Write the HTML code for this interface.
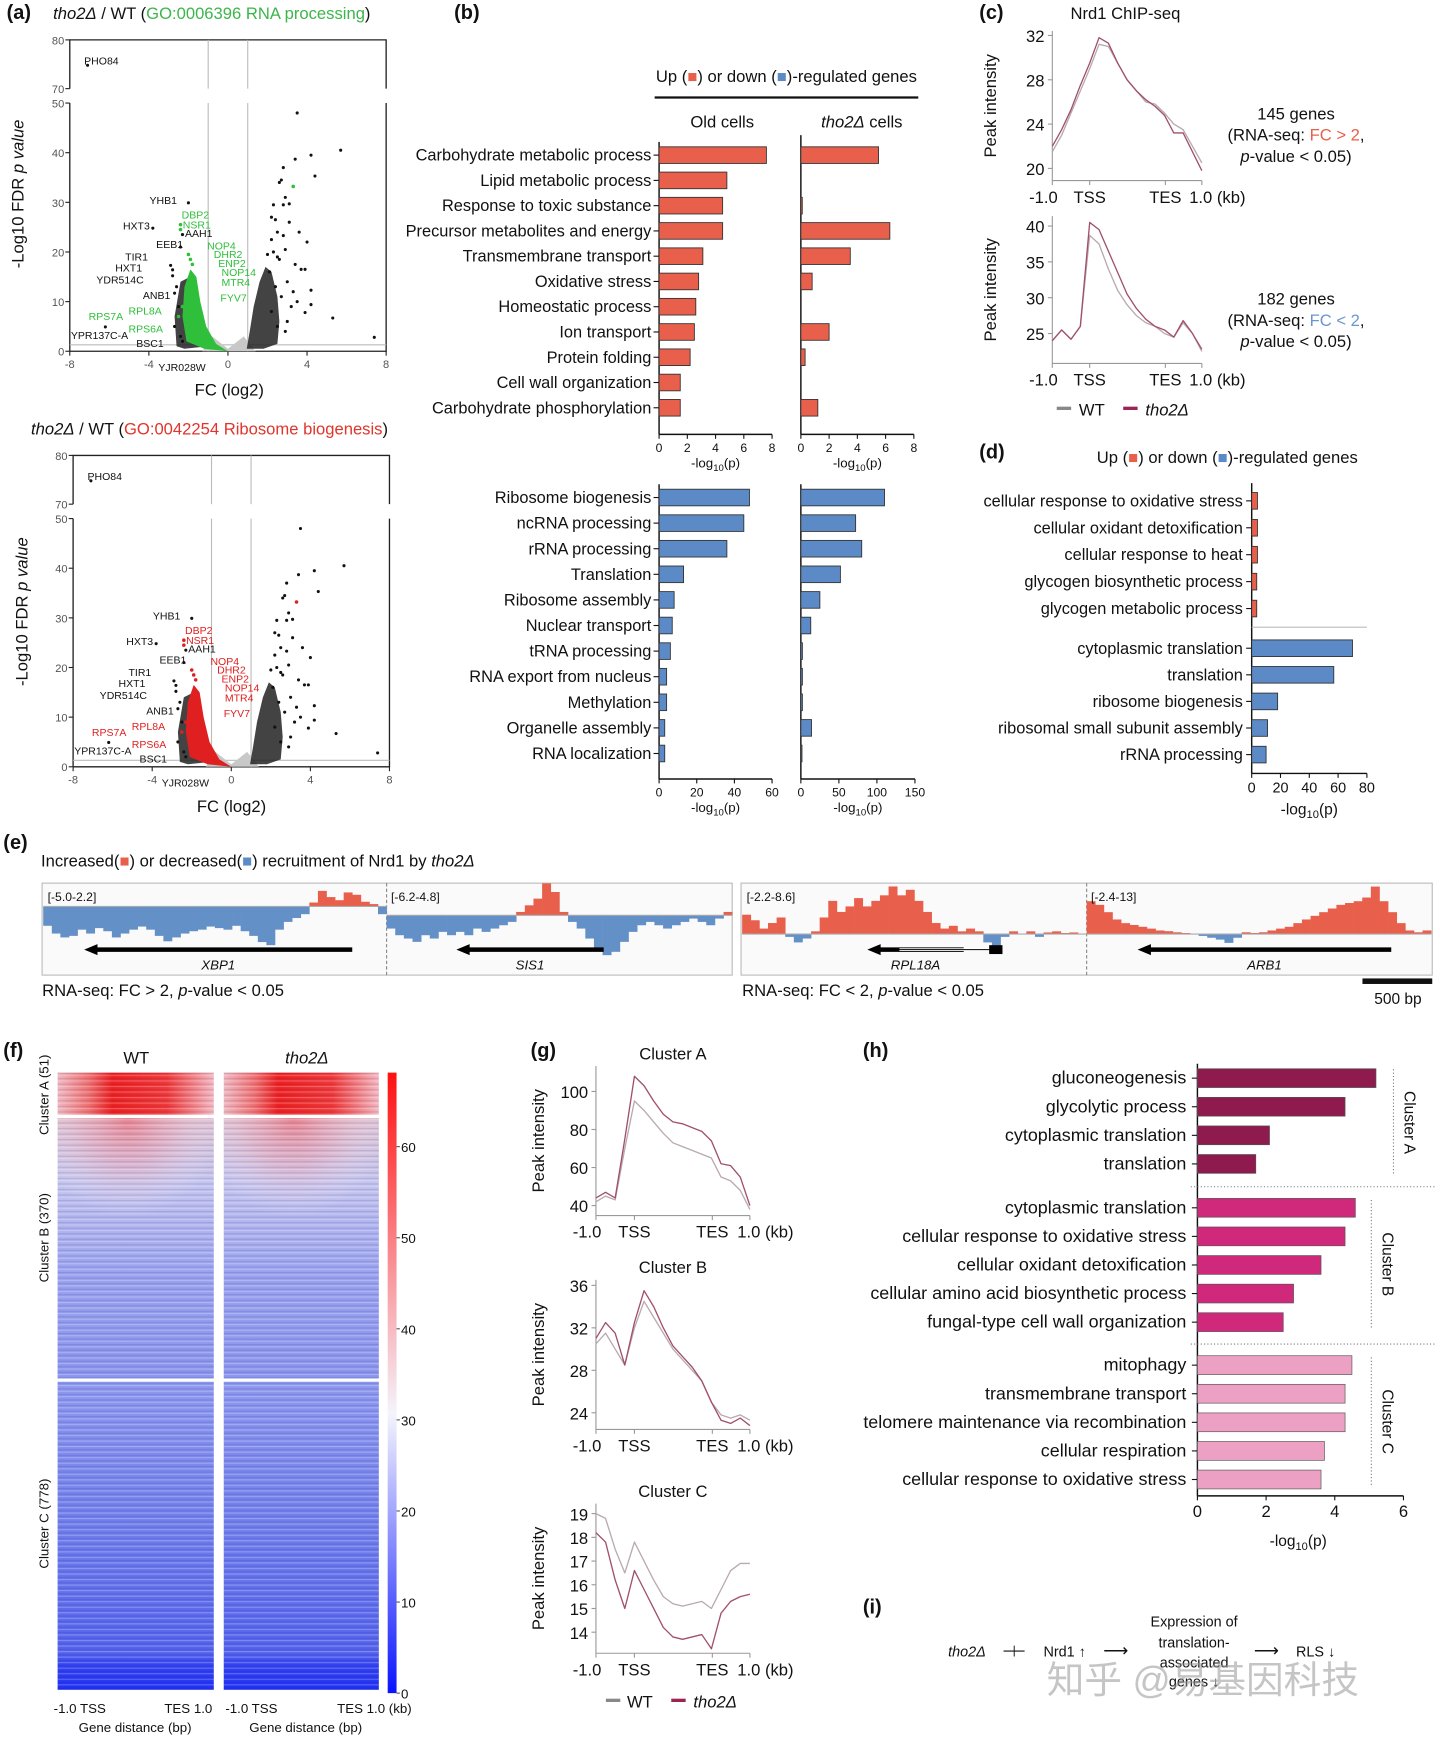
<!DOCTYPE html>
<html><head><meta charset="utf-8"><style>
html,body{margin:0;padding:0;background:#fff;}
svg{display:block;}
text{font-family:"Liberation Sans","Noto Sans CJK SC",sans-serif;fill:#111;}
</style></head><body>
<svg id="fig" xmlns="http://www.w3.org/2000/svg" width="1440" height="1743" viewBox="0 0 1300 1573" preserveAspectRatio="none">
<defs>
<linearGradient id="cbar" x1="0" y1="1" x2="0" y2="0">
<stop offset="0" stop-color="#0a14ff"/><stop offset="0.45" stop-color="#f4f4fc"/><stop offset="1" stop-color="#ff1010"/></linearGradient>
<linearGradient id="hmA" x1="0" y1="0" x2="1" y2="0">
<stop offset="0" stop-color="#f0b8c0"/><stop offset="0.2" stop-color="#f07070"/><stop offset="0.35" stop-color="#ee2020"/><stop offset="0.7" stop-color="#f03838"/><stop offset="1" stop-color="#f4b8c0"/></linearGradient>
<linearGradient id="hmB" x1="0" y1="0" x2="0" y2="1">
<stop offset="0" stop-color="#dcc0d0"/><stop offset="0.25" stop-color="#c4c4ee"/><stop offset="0.6" stop-color="#9aa2ee"/><stop offset="1" stop-color="#8a94ec"/></linearGradient>
<linearGradient id="hmC" x1="0" y1="0" x2="0" y2="1">
<stop offset="0" stop-color="#8e98ee"/><stop offset="0.5" stop-color="#6e7cea"/><stop offset="0.88" stop-color="#5462ec"/><stop offset="0.92" stop-color="#3342f0"/><stop offset="1" stop-color="#2030f4"/></linearGradient>
<radialGradient id="hbHot" cx="0.45" cy="0" r="0.6">
<stop offset="0" stop-color="rgba(240,90,100,0.6)"/><stop offset="0.5" stop-color="rgba(245,160,170,0.35)"/><stop offset="1" stop-color="rgba(255,255,255,0)"/></radialGradient>
<pattern id="stripes" width="6" height="5" patternUnits="userSpaceOnUse">
<rect x="0" y="0" width="6" height="1" fill="rgba(255,255,255,0.25)"/><rect x="0" y="3" width="6" height="1" fill="rgba(20,20,120,0.14)"/></pattern>
</defs>

<text x="6" y="17" font-size="18" font-weight="bold">(a)</text>
<text x="410" y="17" font-size="18" font-weight="bold">(b)</text>
<text x="884" y="17" font-size="18" font-weight="bold">(c)</text>
<text x="884" y="414" font-size="18" font-weight="bold">(d)</text>
<text x="3" y="766" font-size="18" font-weight="bold">(e)</text>
<text x="3" y="954" font-size="18" font-weight="bold">(f)</text>
<text x="479" y="954" font-size="18" font-weight="bold">(g)</text>
<text x="779" y="954" font-size="18" font-weight="bold">(h)</text>
<text x="779" y="1456" font-size="18" font-weight="bold">(i)</text>

<text x="48" y="17" font-size="15"><tspan font-style="italic">tho2Δ</tspan> / WT (<tspan style="fill:#3cb64a">GO:0006396 RNA processing</tspan>)</text>
<text x="28" y="392" font-size="15"><tspan font-style="italic">tho2Δ</tspan> / WT (<tspan style="fill:#e0352b">GO:0042254 Ribosome biogenesis</tspan>)</text>
<text transform="translate(21,175) rotate(-90)" text-anchor="middle" font-size="15">-Log10 FDR <tspan font-style="italic">p value</tspan></text>
<text transform="translate(25,552) rotate(-90)" text-anchor="middle" font-size="15">-Log10 FDR <tspan font-style="italic">p value</tspan></text>
<text x="207" y="357" text-anchor="middle" font-size="15">FC (log2)</text>
<text x="209" y="733" text-anchor="middle" font-size="15">FC (log2)</text>

<text x="710" y="74" text-anchor="middle" font-size="15">Up (<tspan style="fill:#e8604c">■</tspan>) or down (<tspan style="fill:#5b8ac6">■</tspan>)-regulated genes</text>
<line x1="591" y1="88" x2="829" y2="88" stroke="#111" stroke-width="2"/>
<text x="652" y="115" text-anchor="middle" font-size="15">Old cells</text>
<text x="778" y="115" text-anchor="middle" font-size="15"><tspan font-style="italic">tho2Δ</tspan> cells</text>

<text x="1016" y="17" text-anchor="middle" font-size="15">Nrd1 ChIP-seq</text>
<text x="1170" y="108" text-anchor="middle" font-size="15">145 genes</text>
<text x="1170" y="127" text-anchor="middle" font-size="15">(RNA-seq: <tspan style="fill:#e8604c">FC &gt; 2</tspan>,</text>
<text x="1170" y="146" text-anchor="middle" font-size="15"><tspan font-style="italic">p</tspan>-value &lt; 0.05)</text>
<text x="1170" y="275" text-anchor="middle" font-size="15">182 genes</text>
<text x="1170" y="294" text-anchor="middle" font-size="15">(RNA-seq: <tspan style="fill:#6a96d0">FC &lt; 2</tspan>,</text>
<text x="1170" y="313" text-anchor="middle" font-size="15"><tspan font-style="italic">p</tspan>-value &lt; 0.05)</text>
<g>
<rect x="954" y="367" width="13" height="3" fill="#888"/><text x="974" y="375" font-size="15">WT</text>
<rect x="1014" y="367" width="13" height="3" fill="#9b2455"/><text x="1034" y="375" font-size="15" font-style="italic">tho2Δ</text></g>

<text x="1108" y="418" text-anchor="middle" font-size="15">Up (<tspan style="fill:#e8604c">■</tspan>) or down (<tspan style="fill:#5b8ac6">■</tspan>)-regulated genes</text>

<text x="37" y="782" font-size="15">Increased(<tspan style="fill:#e8604c">■</tspan>) or decreased(<tspan style="fill:#5b8ac6">■</tspan>) recruitment of Nrd1 by <tspan font-style="italic">tho2Δ</tspan></text>
<rect x="38" y="797" width="623" height="83" fill="#fafafa" stroke="#bbb"/>
<rect x="669" y="797" width="624" height="83" fill="#fafafa" stroke="#bbb"/>
<line x1="349" y1="797" x2="349" y2="880" stroke="#888" stroke-dasharray="3,2"/>
<line x1="981" y1="797" x2="981" y2="880" stroke="#888" stroke-dasharray="3,2"/>
<text x="38" y="899" font-size="15">RNA-seq: FC &gt; 2, <tspan font-style="italic">p</tspan>-value &lt; 0.05</text>
<text x="670" y="899" font-size="15">RNA-seq: FC &lt; 2, <tspan font-style="italic">p</tspan>-value &lt; 0.05</text>
<rect x="1230" y="883" width="63" height="5" fill="#111"/>
<text x="1262" y="906" text-anchor="middle" font-size="14">500 bp</text>

<text x="123" y="960" text-anchor="middle" font-size="15">WT</text>
<text x="277" y="960" text-anchor="middle" font-size="15" font-style="italic">tho2Δ</text>
<text transform="translate(44,988) rotate(-90)" text-anchor="middle" font-size="12">Cluster A (51)</text>
<text transform="translate(44,1117) rotate(-90)" text-anchor="middle" font-size="12">Cluster B (370)</text>
<text transform="translate(44,1375) rotate(-90)" text-anchor="middle" font-size="12">Cluster C (778)</text>
<text x="72" y="1546" text-anchor="middle" font-size="12">-1.0 TSS</text>
<text x="170" y="1546" text-anchor="middle" font-size="12">TES  1.0</text>
<text x="227" y="1546" text-anchor="middle" font-size="12">-1.0 TSS</text>
<text x="338" y="1546" text-anchor="middle" font-size="12">TES  1.0 (kb)</text>
<text x="122" y="1563" text-anchor="middle" font-size="12">Gene distance (bp)</text>
<text x="276" y="1563" text-anchor="middle" font-size="12">Gene distance (bp)</text>

<text x="1172" y="1395" text-anchor="middle" font-size="14">-log<tspan font-size="10" dy="4">10</tspan><tspan dy="-4">(p)</tspan></text>
<text transform="translate(1268,1013) rotate(90)" text-anchor="middle" font-size="14">Cluster A</text>
<text transform="translate(1248,1141) rotate(90)" text-anchor="middle" font-size="14">Cluster B</text>
<text transform="translate(1248,1283) rotate(90)" text-anchor="middle" font-size="14">Cluster C</text>

<g>
<text x="856" y="1495" font-size="13" font-style="italic">tho2Δ</text>
<text x="905" y="1495" font-size="14">⊣</text>
<line x1="906" y1="1490" x2="925" y2="1490" stroke="#111"/>
<text x="942" y="1495" font-size="13">Nrd1 ↑</text>
<text x="996" y="1495" font-size="16">⟶</text>
<text x="1078" y="1468" text-anchor="middle" font-size="13">Expression of</text>
<text x="1078" y="1487" text-anchor="middle" font-size="13">translation-</text>
<text x="1078" y="1505" text-anchor="middle" font-size="13">associated</text>
<text x="1078" y="1522" text-anchor="middle" font-size="13">genes ↓</text>
<text x="1132" y="1495" font-size="16">⟶</text>
<text x="1170" y="1495" font-size="13">RLS ↓</text>
</g>
<text x="945" y="1528" font-size="34" style="fill:rgba(150,150,150,0.55)">知乎 @易基因科技</text>

<script>
const NS='http://www.w3.org/2000/svg';
const svg=document.getElementById('fig');
function mk(tag,attrs,parent){const e=document.createElementNS(NS,tag);for(const k in attrs)e.setAttribute(k,attrs[k]);(parent||svg).appendChild(e);return e;}
function txt(s,x,y,size,anchor,parent){const e=mk('text',{x:x,y:y,'font-size':size,'text-anchor':anchor||'start'},parent);e.textContent=s;return e;}
function logLabel(x,y,size,parent){
  const t=mk('text',{x:x,y:y,'font-size':size,'text-anchor':'middle'},parent);
  const a=mk('tspan',{},t);a.textContent='-log';
  const b=mk('tspan',{'font-size':size*0.72,dy:3},t);b.textContent='10';
  const c=mk('tspan',{dy:-3},t);c.textContent='(p)';
  return t;
}

/* ---------- Panel a : volcano data ---------- */
const volTicksY=[0,10,20,30,40,50];
const volTicksYTop=[70,80];
const volTicksX=[-8,-4,0,4,8];
const volOutliersFC=[3.5,5.7,4.2,3.4,4.4,2.8,2.6,2.7,2.9,3.1,2.3,2.8,3.1,2.2,2.4,2.5,2.8,3.6,2.2,4.0,2.3,2.5,3.4,3.7,3.9,4.2,4.2,3.9,5.3,7.4,2.6,2.1,3.0,2.7,3.2,3.0,2.5,-2.0,-3.8,-2.3,-2.4,-2.9,-2.8,-2.8,-2.7,-6.2,-2.4,-7.1,2.9,3.3,2.0,2.4,3.5,2.2,2.9,-2.6,-2.5,-2.7,-2.3];
const volOutliersP=[48,40.5,39.5,38.7,35.3,37,34,34.5,31,29.7,29.5,29.5,26,27,26.5,24,23.3,24,22.5,22,20,19,17.5,16.5,16.5,12.3,9.4,7.8,6.7,2.8,18.5,16,14,11,9,6,5,29.9,24.8,23.5,21,17.3,16.4,15.2,11.7,4.9,3,74.8,20.5,12,19.5,13,10,8,4,13,9,5,2];
const volHiFC=[3.3,-2.4,-2.4,-2.0,-1.9,-1.8,-2.3,-2.5];
const volHiP=[33.2,25.5,24.5,19.5,18.5,17.5,9,7];
const cloudLeftBlackFC=[-1.0,-1.3,-1.6,-1.9,-2.4,-2.7,-2.6,-2.2];
const cloudLeftBlackP=[1,5,11,15,14,7,1,0.5];
const cloudHiFC=[0,-0.6,-1.1,-1.4,-1.6,-1.9,-2.2,-2.3,-2.1,-1.2];
const cloudHiP=[0,1.5,5,10,15,16.5,13,7,2,0.5];
const cloudRightFC=[0.95,1.1,1.3,1.6,1.9,2.2,2.5,2.6,2.5,1.8];
const cloudRightP=[0.5,4,9,14,17,16,11,6,1.5,0.5];
const volLabels=['PHO84','YHB1','DBP2','NSR1','HXT3','AAH1','EEB1','NOP4','DHR2','ENP2','TIR1','HXT1','NOP14','YDR514C','MTR4','ANB1','FYV7','RPL8A','RPS7A','RPS6A','YPR137C-A','BSC1','YJR028W'];
const volLabelHi=[0,0,1,1,0,0,0,1,1,1,0,0,1,0,1,0,1,1,1,1,0,0,0];
const volLabelX=[76,135,164,165,111,167,141,187,193,197,113,104,200,87,200,129,199,116,80,116,64,123,143];
const volLabelY=[58,184,197,206,207,214,224,225,233,241,235,245,249,256,258,270,272,284,289,300,306,313,335];

function volcano(ox,oy,hiColor,name){
  const g=mk('g',{});
  
  
  const X=fc=>ox+(fc+8)*17.85;
  const Y=p=>p<=50?oy-p*4.48:oy-237-(p-70)*4.4;
  const ax=mk('path',{d:`M${X(-8)},${Y(0)}V${Y(50)}M${X(-8)},${Y(70)}V${Y(80)}H${X(8)}V${Y(70)}M${X(8)},${Y(50)}V${Y(0)}H${X(-8)}`,fill:'none',stroke:'#222','stroke-width':1.2},g);
  
  mk('line',{x1:X(-1),y1:Y(0),x2:X(-1),y2:Y(50),stroke:'#bbb'},g);
  mk('line',{x1:X(1),y1:Y(0),x2:X(1),y2:Y(50),stroke:'#bbb'},g);
  mk('line',{x1:X(-1),y1:Y(70),x2:X(-1),y2:Y(80),stroke:'#bbb'},g);
  mk('line',{x1:X(1),y1:Y(70),x2:X(1),y2:Y(80),stroke:'#bbb'},g);
  mk('line',{x1:X(-8),y1:Y(1.3),x2:X(8),y2:Y(1.3),stroke:'#bbb'},g);
  volTicksY.concat(volTicksYTop).forEach(t=>{
    mk('line',{x1:X(-8)-4,y1:Y(t),x2:X(-8),y2:Y(t),stroke:'#222'},g);
    const l=txt(String(t),X(-8)-5,Y(t)+4,10,'end',g);l.setAttribute('style','fill:#555');
    
  });
  volTicksX.forEach(t=>{
    mk('line',{x1:X(t),y1:Y(0),x2:X(t),y2:Y(0)+4,stroke:'#222'},g);
    const l=txt(String(t),X(t),Y(0)+15,10,'middle',g);l.setAttribute('style','fill:#555');
    
  });
  const gr=mk('path',{d:`M${X(-1.3)},${Y(0)}L${X(-0.8)},${Y(3)}L${X(0)},${Y(0.5)}L${X(0.8)},${Y(3)}L${X(1.4)},${Y(0)}Z`,fill:'#c8c8c8'},g);
  
  const poly=(fcs,ps)=>fcs.map((f,i)=>(i?'L':'M')+X(f)+','+Y(ps[i])).join('')+'Z';
  const c1=mk('path',{d:poly(cloudLeftBlackFC,cloudLeftBlackP),fill:'#222','fill-opacity':0.85},g);
  
  const c2=mk('path',{d:poly(cloudRightFC,cloudRightP),fill:'#222','fill-opacity':0.85},g);
  
  const c3=mk('path',{d:poly(cloudHiFC,cloudHiP),fill:hiColor},g);
  
  volOutliersFC.forEach((f,i)=>{
    const c=mk('circle',{cx:X(f),cy:Y(volOutliersP[i]),r:1.4,fill:'#111'},g);
    
  });
  volHiFC.forEach((f,i)=>{
    const c=mk('circle',{cx:X(f),cy:Y(volHiP[i]),r:1.6,fill:hiColor},g);
    
  });
  const dy=oy-317;
  volLabels.forEach((s,i)=>{
    const l=txt(s,volLabelX[i]+(ox-63),volLabelY[i]+dy,9.5,'start',g);
    l.setAttribute('style','fill:'+(volLabelHi[i]?hiColor:'#111'));
    
  });
}
volcano(63,317,'#2fbf3a','volcano-rna-processing');
volcano(66,692,'#e02020','volcano-ribosome-biogenesis');

/* ---------- Panel b : GO bars ---------- */
const bUpCats=['Carbohydrate metabolic process','Lipid metabolic process','Response to toxic substance','Precursor metabolites and energy','Transmembrane transport','Oxidative stress','Homeostatic process','Ion transport','Protein folding','Cell wall organization','Carbohydrate phosphorylation'];
const bUpOld=[7.6,4.8,4.5,4.5,3.1,2.8,2.6,2.5,2.2,1.5,1.5];
const bUpTho2=[5.5,0,0.1,6.3,3.5,0.8,0,2.0,0.3,0,1.2];
const bDownCats=['Ribosome biogenesis','ncRNA processing','rRNA processing','Translation','Ribosome assembly','Nuclear transport','tRNA processing','RNA export from nucleus','Methylation','Organelle assembly','RNA localization'];
const bDownOld=[48,45,36,13,8,7,6,4,4,3,3];
const bDownTho2=[110,72,80,52,25,13,2,2,2,14,1];
const bUpTicks=[0,2,4,6,8];
const bDownOldTicks=[0,20,40,60];
const bDownTho2Ticks=[0,50,100,150];

function hbarPanel(opts){
  const g=mk('g',{});
  
  
  const rowY=i=>opts.y0+i*opts.step;
  const sx=v=>opts.x0+v/opts.max*opts.w;
  mk('line',{x1:opts.x0,y1:opts.top,x2:opts.x0,y2:opts.bottom,stroke:'#111','stroke-width':1.3},g);
  mk('line',{x1:opts.x0,y1:opts.bottom,x2:opts.x0+opts.w,y2:opts.bottom,stroke:'#111','stroke-width':1.3},g);
  opts.ticks.forEach(t=>{
    mk('line',{x1:sx(t),y1:opts.bottom,x2:sx(t),y2:opts.bottom+4,stroke:'#111'},g);
    const l=txt(String(t),sx(t),opts.bottom+16,11,'middle',g);
    
  });
  const xt=logLabel(opts.x0+opts.w/2,opts.bottom+30,12,g);
  
  opts.vals.forEach((v,i)=>{
    if(opts.cats){
      mk('line',{x1:opts.x0-5,y1:rowY(i),x2:opts.x0,y2:rowY(i),stroke:'#111'},g);
      const l=txt(opts.cats[i],opts.x0-7,rowY(i)+5,opts.fs||14.8,'end',g);
      
    }
    if(v>0){
      const r=mk('rect',{x:opts.x0,y:rowY(i)-opts.bh/2,width:Math.max(1,sx(v)-opts.x0),height:opts.bh,fill:opts.color,stroke:'#333','stroke-width':0.8},g);
      
    }
  });
}
hbarPanel({name:'b-up-old',vals:bUpOld,cats:bUpCats,x0:595,w:102,max:8,y0:140,step:22.8,top:128,bottom:392,ticks:bUpTicks,color:'#e8604c',bh:15});
hbarPanel({name:'b-up-tho2',vals:bUpTho2,x0:723,w:102,max:8,y0:140,step:22.8,top:122,bottom:392,ticks:bUpTicks,color:'#e8604c',bh:15});
hbarPanel({name:'b-down-old',vals:bDownOld,cats:bDownCats,x0:595,w:102,max:60,y0:449,step:23.1,top:437,bottom:703,ticks:bDownOldTicks,color:'#5b8ac6',bh:15});
hbarPanel({name:'b-down-tho2',vals:bDownTho2,x0:723,w:103,max:150,y0:449,step:23.1,top:437,bottom:703,ticks:bDownTho2Ticks,color:'#5b8ac6',bh:15});

/* ---------- Panel d ---------- */
const dCats=['cellular response to oxidative stress','cellular oxidant detoxification','cellular response to heat','glycogen biosynthetic process','glycogen metabolic process','cytoplasmic translation','translation','ribosome biogenesis','ribosomal small subunit assembly','rRNA processing'];
const dVals=[4,4,4,3.5,3.5,70,57,18,11,10];
const dUp=[1,1,1,1,1,0,0,0,0,0];
const dTicks=[0,20,40,60,80];
(function(){
  const g=mk('g',{});
  
  
  const x0=1130,w=104,max=80,bottom=698;
  const sx=v=>x0+v/max*w;
  const rowYs=i=>i<5?452+i*24.3:585+(i-5)*24;
  mk('line',{x1:x0,y1:436,x2:x0,y2:bottom,stroke:'#111','stroke-width':1.3},g);
  mk('line',{x1:x0,y1:bottom,x2:x0+w,y2:bottom,stroke:'#111','stroke-width':1.3},g);
  mk('line',{x1:x0,y1:566,x2:x0+w,y2:566,stroke:'#bbb'},g);
  dTicks.forEach(t=>{
    mk('line',{x1:sx(t),y1:bottom,x2:sx(t),y2:bottom+4,stroke:'#111'},g);
    const l=txt(String(t),sx(t),bottom+17,13,'middle',g);
    
  });
  const xt=logLabel(1182,735,14,g);
  
  dVals.forEach((v,i)=>{
    const y=rowYs(i);
    mk('line',{x1:x0-5,y1:y,x2:x0,y2:y,stroke:'#111'},g);
    const l=txt(dCats[i],x0-8,y+5,14.8,'end',g);
    
    const r=mk('rect',{x:x0,y:y-7.5,width:sx(v)-x0,height:15,fill:dUp[i]?'#e8604c':'#5b8ac6',stroke:'#333','stroke-width':0.8},g);
    
  });
})();

/* ---------- Profile line plots (c, g) ---------- */
const cTopWT=[21.5,23,25,27,29,31.2,31.0,29.5,28,27,26,25.8,25,24,23.5,22,20.5];
const cTopTho2=[22,23.5,25.3,27.5,29.5,31.8,31.3,29.5,28,27,26.2,25.6,24.8,23.2,23.2,21.5,19.8];
const cBotWT=[24,25.5,24.2,26,38.7,37.5,34,31,29,27.5,26.5,26,25,24.5,26.5,25,22.5];
const cBotTho2=[24,25.5,24.2,26,40.5,39.5,36.5,33.5,30.5,28.5,27,26,25.5,24.5,26.8,25,22.8];
const gAWT=[42,45,43,70,95,90,84,78,73,71,69,67,65,55,53,48,38];
const gATho2=[44,47,44,75,108,103,95,88,84,83,81,79,74,62,61,55,40];
const gBWT=[30.5,31.5,30,28.5,32,34.5,33,31.5,30,29,28,27,25,23.8,23.5,23.8,23.3];
const gBTho2=[31,32.5,31.5,28.5,32.5,35.5,34,32,30.3,29.3,28.3,27,25,23.3,23,23.5,22.8];
const gCWT=[19,18.8,17.5,16.5,17.8,17,16.2,15.5,15.2,15.1,15.2,15.3,15.0,15.8,16.6,16.9,16.9];
const gCTho2=[18.2,17.8,16.2,15.0,16.6,15.8,15.0,14.2,13.8,13.7,13.8,13.9,13.3,14.8,15.3,15.5,15.6];
const cTopTicks=[20,24,28,32];
const cBotTicks=[25,30,35,40];
const gATicks=[40,60,80,100];
const gBTicks=[24,28,32,36];
const gCTicks=[14,15,16,17,18,19];

function profile(o){
  const g=mk('g',{});
  
  
  const sy=v=>o.yA+(v-o.vA)*(o.yB-o.yA)/(o.vB-o.vA);
  const x0=o.x0,x1=o.x1;
  const xTSS=x0+(x1-x0)*0.25,xTES=x0+(x1-x0)*0.756;
  mk('line',{x1:x0,y1:o.top,x2:x0,y2:o.bottom,stroke:'#999'},g);
  mk('line',{x1:x0,y1:o.bottom,x2:x1,y2:o.bottom,stroke:'#999'},g);
  [x0,xTSS,xTES,x1].forEach(x=>mk('line',{x1:x,y1:o.bottom,x2:x,y2:o.bottom+4,stroke:'#999'},g));
  o.ticks.forEach(t=>{
    mk('line',{x1:x0-4,y1:sy(t),x2:x0,y2:sy(t),stroke:'#999'},g);
    const l=txt(String(t),x0-7,sy(t)+6,o.fs,'end',g);
    
  });
  const lb=[['-1.0',x0-8],['TSS',xTSS],['TES',xTES],['1.0 (kb)',x1+14]];
  lb.forEach(a=>{const l=txt(a[0],a[1],o.bottom+20,15,'middle',g);});
  const yt=mk('text',{transform:`translate(${o.yl},${(o.top+o.bottom)/2}) rotate(-90)`,'font-size':15,'text-anchor':'middle'},g);
  yt.textContent='Peak intensity';
  
  if(o.title){const t=txt(o.title,(x0+x1)/2,o.top-6,15,'middle',g);}
  const pts=arr=>arr.map((v,i)=>(x0+i*(x1-x0)/(arr.length-1))+','+sy(v)).join(' ');
  const l1=mk('polyline',{points:pts(o.wt),fill:'none',stroke:'#b9a9b0','stroke-width':1.2,'stroke-linejoin':'round'},g);
  
  const l2=mk('polyline',{points:pts(o.tho2),fill:'none',stroke:'#a0506e','stroke-width':1.2,'stroke-linejoin':'round'},g);
  
}
profile({name:'c-top-profile',x0:950,x1:1085,top:28,bottom:163,vA:20,yA:152,vB:32,yB:32,ticks:cTopTicks,wt:cTopWT,tho2:cTopTho2,yl:899,fs:15});
profile({name:'c-bottom-profile',x0:950,x1:1085,top:195,bottom:328,vA:25,yA:301,vB:40,yB:204,ticks:cBotTicks,wt:cBotWT,tho2:cBotTho2,yl:899,fs:15});
profile({name:'g-cluster-a-profile',title:'Cluster A',x0:538,x1:677,top:962,bottom:1097,vA:40,yA:1088,vB:100,yB:985,ticks:gATicks,wt:gAWT,tho2:gATho2,yl:491,fs:15});
profile({name:'g-cluster-b-profile',title:'Cluster B',x0:538,x1:677,top:1155,bottom:1290,vA:24,yA:1275,vB:36,yB:1160,ticks:gBTicks,wt:gBWT,tho2:gBTho2,yl:491,fs:15});
profile({name:'g-cluster-c-profile',title:'Cluster C',x0:538,x1:677,top:1357,bottom:1492,vA:14,yA:1473,vB:19,yB:1366,ticks:gCTicks,wt:gCWT,tho2:gCTho2,yl:491,fs:15});
(function(){
  const g=mk('g',{});
  
  
  mk('rect',{x:547,y:1533,width:13,height:3,fill:'#888'},g);
  txt('WT',566,1541,15,'start',g);
  mk('rect',{x:606,y:1533,width:13,height:3,fill:'#9b2455'},g);
  const t=txt('tho2Δ',626,1541,15,'start',g);t.setAttribute('font-style','italic');
})();

/* ---------- Panel e tracks ---------- */
const eXBP1=[-2.5,-3.5,-4,-3.8,-3,-3.5,-2.8,-3.2,-4,-3.5,-3,-2.6,-3,-3.8,-4.5,-4,-3.5,-3.2,-3,-2.6,-2.8,-3,-2.5,-3.2,-3.8,-4.6,-5,-3,-2,-1.5,-1,0.5,2.0,1.2,0.8,1.8,1.5,0.6,0.3,-1];
const eSIS1=[-2,-3,-3.5,-4,-3,-3.5,-2.5,-3,-2.5,-3,-2,-2.5,-2,-1.5,-1,0.5,1.5,2.5,4.8,3.5,0.5,-1,-2,-3.5,-5,-6,-5.5,-4,-2.5,-1.5,-1,-1.5,-2,-1.5,-1,-0.5,-1,-1.5,-0.5,0.5];
const eRPL18A=[3.5,2.5,1,2,3,-0.5,-1.5,-0.8,0.5,3,6,4,5,6.5,5,6,7,8.6,7,8,6,4,2,1,1.5,0.5,1,0.5,-1.5,-2.2,-0.5,0.5,0,0.5,-0.5,0.3,0.5,0.2,0.3,0];
const eARB1=[9,8,6,4,3,2.5,2,1.5,1,0.8,0.5,0.3,0,-0.5,-1,-1.5,-2.4,-1,0.5,0.3,0.5,1,1.5,2,3,4,5,6,7,8,8.5,9,10,13,9,6,3,1,0.5,1];
const eRanges=['[-5.0-2.2]','[-6.2-4.8]','[-2.2-8.6]','[-2.4-13]'];
const eGenes=['XBP1','SIS1','RPL18A','ARB1'];
function track(vals,x0,x1,base,pxPerUnit,range,gene,ax0,ax1,name){
  const g=mk('g',{});
  
  
  const w=(x1-x0)/vals.length;
  vals.forEach((v,i)=>{
    const h=Math.abs(v)*pxPerUnit;
    const r=mk('rect',{x:x0+i*w,y:v>=0?base-h:base,width:w+0.3,height:h,fill:v>=0?'#e8604c':'#6490c8'},g);
    
  });
  mk('line',{x1:x0,y1:base,x2:x1,y2:base,stroke:'#aaa'},g);
  const rl=txt(range,x0+4,813,11,'start',g);
  
  mk('line',{x1:ax0+8,y1:857,x2:ax1,y2:857,stroke:'#000','stroke-width':4},g);
  mk('path',{d:`M${ax0},857L${ax0+12},852L${ax0+12},862Z`,fill:'#000'},g);
  const gl=txt(gene,(ax0+ax1)/2,875,12,'middle',g);
  gl.setAttribute('font-style','italic');
  
}
track(eXBP1,39,349,818,7,eRanges[0],eGenes[0],76,318,'e-xbp1-track');
track(eSIS1,349,661,826,6,eRanges[1],eGenes[1],412,545,'e-sis1-track');
track(eRPL18A,670,981,843,5,eRanges[2],eGenes[2],783,870,'e-rpl18a-track');
track(eARB1,981,1292,843,3.3,eRanges[3],eGenes[3],1027,1256,'e-arb1-track');
(function(){
const l=mk('line',{x1:812,y1:857,x2:895,y2:857,stroke:'#fff','stroke-width':2.4});
const l2=mk('line',{x1:812,y1:857,x2:895,y2:857,stroke:'#000','stroke-width':1});
const r=mk('rect',{x:893,y:853,width:12,height:8,fill:'#000'});})();

/* ---------- Panel f heatmap ---------- */
const hmClusters=['A','B','C'];
const hmTop=[968,1009,1247];
const hmBottom=[1006,1244,1525];
const cbTicks=[0,10,20,30,40,50,60];
(function(){
  [[52,193,'wt'],[202,342,'tho2']].forEach(p=>{
    hmClusters.forEach((c,i)=>{
      const r=mk('rect',{x:p[0],y:hmTop[i],width:p[1]-p[0],height:hmBottom[i]-hmTop[i],fill:'url(#hm'+c+')'});
      
      if(c==='B'){
        const hot=mk('rect',{x:p[0],y:hmTop[i],width:p[1]-p[0],height:150,fill:'url(#hbHot)'});
        
      }
      const s=mk('rect',{x:p[0],y:hmTop[i],width:p[1]-p[0],height:hmBottom[i]-hmTop[i],fill:'url(#stripes)'});
      
    });
  });
  const cb=mk('rect',{x:350,y:968,width:8,height:560,fill:'url(#cbar)'});
  
  cbTicks.forEach(t=>{
    const y=1528-t*8.22;
    mk('line',{x1:358,y1:y,x2:361,y2:y,stroke:'#555'});
    const l=txt(String(t),362,y+5,12,'start');
    
  });
})();

/* ---------- Panel h ---------- */
const hCats=['gluconeogenesis','glycolytic process','cytoplasmic translation','translation','cytoplasmic translation','cellular response to oxidative stress','cellular oxidant detoxification','cellular amino acid biosynthetic process','fungal-type cell wall organization','mitophagy','transmembrane transport','telomere maintenance via recombination','cellular respiration','cellular response to oxidative stress'];
const hVals=[5.2,4.3,2.1,1.7,4.6,4.3,3.6,2.8,2.5,4.5,4.3,4.3,3.7,3.6];
const hCluster=[0,0,0,0,1,1,1,1,1,2,2,2,2,2];
const hTicks=[0,2,4,6];
(function(){
  const g=mk('g',{});
  
  
  const colors=['#8e1a4e','#d0287a','#eba0c4'];
  const x0=1081,sx=v=>x0+v*31,bottom=1350;
  const rowY=i=>{const c=hCluster[i];const start=[973,1090,1232][c];const first=[0,4,9][c];return start+(i-first)*25.8;};
  mk('line',{x1:x0,y1:960,x2:x0,y2:bottom,stroke:'#111','stroke-width':1.3},g);
  mk('line',{x1:x0,y1:bottom,x2:sx(6),y2:bottom,stroke:'#111','stroke-width':1.3},g);
  hTicks.forEach(t=>{
    mk('line',{x1:sx(t),y1:bottom,x2:sx(t),y2:bottom+4,stroke:'#111'},g);
    const l=txt(String(t),sx(t),bottom+19,15,'middle',g);
    
  });
  [1071,1213].forEach(y=>mk('line',{x1:1075,y1:y,x2:1295,y2:y,stroke:'#777','stroke-dasharray':'1,2'},g));
  [[1258,965,1060],[1238,1083,1198],[1238,1225,1340]].forEach(a=>mk('line',{x1:a[0],y1:a[1],x2:a[0],y2:a[2],stroke:'#777','stroke-dasharray':'1,2'},g));
  hVals.forEach((v,i)=>{
    const y=rowY(i);
    mk('line',{x1:x0-5,y1:y,x2:x0,y2:y,stroke:'#111'},g);
    const l=txt(hCats[i],x0-10,y+5,16.2,'end',g);
    
    const r=mk('rect',{x:x0,y:y-8.5,width:sx(v)-x0,height:17,fill:colors[hCluster[i]],stroke:'#555','stroke-width':0.6},g);
    
  });
})();
</script>
</svg>
</body></html>
